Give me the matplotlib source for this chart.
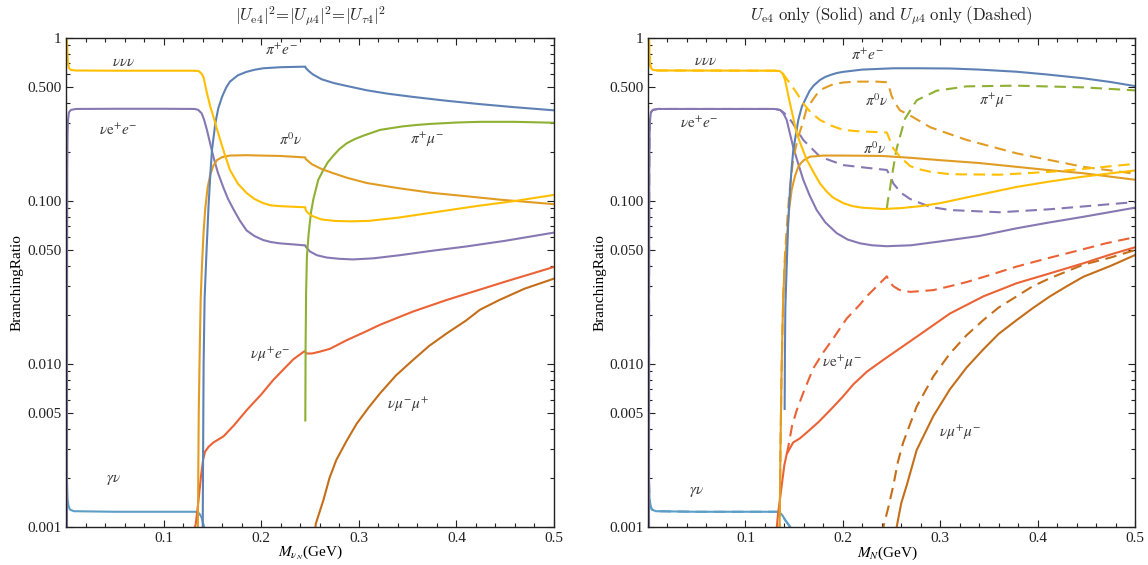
import numpy as np
import matplotlib
matplotlib.use("Agg")
import matplotlib.pyplot as plt
from matplotlib.ticker import FixedLocator, FixedFormatter, LogLocator, NullFormatter, MultipleLocator

plt.rcParams['font.family'] = ['Liberation Serif', 'DejaVu Serif']
plt.rcParams['mathtext.fontset'] = 'stix'

# Mathematica default palette
BLUE = '#5E81B5'
ORANGE = '#E19C24'
GREEN = '#8FB032'
RED = '#EB6235'
PURPLE = '#8778B3'
BROWN = '#C56E1A'
LBLUE = '#5D9EC7'
YELLOW = '#FFBF00'

# ---------------- left panel: |Ue4|^2 = |Umu4|^2 = |Utau4|^2 ----------------
L_nnn_x = [0.001, 0.0015, 0.002, 0.003, 0.005, 0.01, 0.05, 0.1, 0.13, 0.1355, 0.1376, 0.1393, 0.141,
           0.1444, 0.1478, 0.151, 0.154, 0.158, 0.163, 0.168, 0.176, 0.185, 0.193, 0.202, 0.21,
           0.219, 0.2452, 0.2456, 0.2475, 0.252, 0.262, 0.275, 0.291, 0.31, 0.34, 0.376, 0.42,
           0.46, 0.5]
L_nnn_y = [1.0, 0.8, 0.7, 0.655, 0.637, 0.632, 0.630, 0.630, 0.630, 0.628, 0.615, 0.60, 0.57,
           0.46, 0.38, 0.33, 0.285, 0.237, 0.19, 0.155, 0.128, 0.112, 0.103, 0.097, 0.094,
           0.093, 0.0915, 0.088, 0.085, 0.081, 0.077, 0.0755, 0.075, 0.0755, 0.079, 0.085, 0.093,
           0.1, 0.109]

L_nee_x = [0.00102, 0.0011, 0.0013, 0.0016, 0.002, 0.003, 0.005, 0.01, 0.05, 0.1, 0.132, 0.1355,
           0.139, 0.1415, 0.1444, 0.1475, 0.151, 0.1555, 0.161, 0.166, 0.172, 0.178, 0.185, 0.193,
           0.202, 0.21, 0.219, 0.2452, 0.2456, 0.25, 0.257, 0.267, 0.28, 0.294, 0.315, 0.342,
           0.375, 0.41, 0.45, 0.5]
L_nee_y = [0.0005, 0.03, 0.15, 0.25, 0.31, 0.35, 0.362, 0.367, 0.368, 0.368, 0.367, 0.362,
           0.345, 0.315, 0.273, 0.228, 0.187, 0.15, 0.122, 0.103, 0.088, 0.076, 0.066, 0.061,
           0.0576, 0.056, 0.055, 0.0534, 0.0525, 0.049, 0.0465, 0.045, 0.0442, 0.0438, 0.0445,
           0.0465, 0.0495, 0.0526, 0.057, 0.064]

L_pie_x = [0.1400, 0.1405, 0.141, 0.142, 0.1437, 0.146, 0.148, 0.1496, 0.153, 0.156, 0.160, 0.164,
           0.168, 0.176, 0.185, 0.193, 0.202, 0.22, 0.2452, 0.2456, 0.249, 0.2535, 0.262, 0.274,
           0.2876, 0.308, 0.33, 0.3557, 0.39, 0.424, 0.46, 0.5]
L_pie_y = [0.0008, 0.003, 0.01, 0.025, 0.045, 0.092, 0.15, 0.206, 0.30, 0.37, 0.437, 0.495,
           0.54, 0.59, 0.62, 0.638, 0.652, 0.662, 0.667, 0.655, 0.625, 0.595, 0.558, 0.53,
           0.508, 0.478, 0.455, 0.435, 0.412, 0.393, 0.376, 0.36]

L_pi0_x = [0.1350, 0.1355, 0.136, 0.137, 0.138, 0.1393, 0.141, 0.1427, 0.145, 0.1478, 0.151,
           0.1546, 0.16, 0.168, 0.185, 0.2, 0.219, 0.2452, 0.2456, 0.2485, 0.252, 0.262, 0.274,
           0.2876, 0.308, 0.34, 0.376, 0.41, 0.444, 0.47, 0.5]
L_pi0_y = [0.0008, 0.002, 0.005, 0.012, 0.025, 0.04, 0.065, 0.09, 0.12, 0.145, 0.165,
           0.178, 0.186, 0.19, 0.191, 0.19, 0.189, 0.185, 0.181, 0.175, 0.168, 0.157, 0.148,
           0.139, 0.129, 0.12, 0.112, 0.107, 0.102, 0.099, 0.0956]

L_pimu_x = [0.2452, 0.2455, 0.246, 0.2468, 0.2485, 0.251, 0.2535, 0.2585, 0.2637, 0.268, 0.274,
            0.28, 0.2876, 0.296, 0.305, 0.3217, 0.335, 0.345, 0.36, 0.3728, 0.40, 0.424, 0.46, 0.5]
L_pimu_y = [0.0045, 0.013, 0.027, 0.045, 0.062, 0.085, 0.103, 0.135, 0.155, 0.172, 0.19,
            0.208, 0.226, 0.24, 0.252, 0.273, 0.281, 0.287, 0.293, 0.297, 0.303, 0.306, 0.306, 0.302]

L_nmue_x = [0.1305, 0.133, 0.136, 0.1385, 0.1405, 0.1425, 0.146, 0.151, 0.1614, 0.172, 0.185, 0.2,
            0.2125, 0.233, 0.2445, 0.2465, 0.252, 0.26, 0.2705, 0.2876, 0.305, 0.3217, 0.3557,
            0.39, 0.45, 0.5]
L_nmue_y = [0.0009, 0.00105, 0.0015, 0.0021, 0.0026, 0.0029, 0.0031, 0.0033, 0.0036, 0.0042, 0.0052,
            0.0065, 0.008, 0.0107, 0.012, 0.0116, 0.0116, 0.0119, 0.0124, 0.014, 0.0156, 0.0174,
            0.021, 0.0247, 0.032, 0.0394]

L_nmumu_x = [0.2545, 0.256, 0.2637, 0.27, 0.277, 0.2878, 0.2978, 0.31, 0.3217, 0.338, 0.3557, 0.372,
             0.39, 0.41, 0.424, 0.444, 0.47, 0.5]
L_nmumu_y = [0.0009, 0.00105, 0.00146, 0.002, 0.00258, 0.0034, 0.0043, 0.0054, 0.0066, 0.0085,
             0.0106, 0.0129, 0.0154, 0.0185, 0.0215, 0.0247, 0.029, 0.0334]

L_gnu_x = [0.001, 0.0015, 0.0025, 0.004, 0.008, 0.05, 0.1, 0.132, 0.135, 0.137, 0.139, 0.1405, 0.142, 0.1435]
L_gnu_y = [0.0019, 0.0015, 0.00135, 0.00128, 0.00125, 0.00124, 0.00124, 0.00124, 0.00123, 0.0012,
           0.00114, 0.00105, 0.00097, 0.0009]

# ---------------- right panel: Ue4 only (solid) ----------------
R_nnn_x = [0.001, 0.0015, 0.002, 0.003, 0.005, 0.01, 0.13, 0.1355, 0.1385, 0.1407, 0.1458, 0.1527,
           0.158, 0.163, 0.17, 0.1766, 0.183, 0.19, 0.2005, 0.21, 0.22, 0.2416, 0.26, 0.28, 0.30,
           0.33, 0.3785, 0.41, 0.4466, 0.5]
R_nnn_y = [1.0, 0.8, 0.7, 0.655, 0.637, 0.632, 0.630, 0.627, 0.60, 0.553, 0.397, 0.26,
           0.213, 0.179, 0.15, 0.128, 0.115, 0.105, 0.097, 0.093, 0.091, 0.0893, 0.0905, 0.093,
           0.097, 0.106, 0.122, 0.131, 0.141, 0.154]

R_nee_x = [0.00102, 0.0011, 0.0013, 0.0016, 0.002, 0.003, 0.005, 0.01, 0.13, 0.1355, 0.139, 0.1424,
           0.149, 0.1535, 0.1594, 0.166, 0.1732, 0.182, 0.1937, 0.205, 0.2177, 0.23, 0.245, 0.27,
           0.30, 0.34, 0.3785, 0.41, 0.447, 0.5]
R_nee_y = [0.0005, 0.03, 0.15, 0.25, 0.31, 0.35, 0.362, 0.367, 0.367, 0.362, 0.345, 0.314,
           0.215, 0.175, 0.135, 0.108, 0.088, 0.074, 0.0635, 0.058, 0.055, 0.0535, 0.0528,
           0.0535, 0.0565, 0.061, 0.068, 0.0735, 0.080, 0.091]

R_pie_x = [0.1403, 0.1406, 0.141, 0.1424, 0.144, 0.1458, 0.1475, 0.1492, 0.1543, 0.158, 0.163,
           0.166, 0.17, 0.1766, 0.182, 0.188, 0.194, 0.2005, 0.22, 0.2519, 0.28, 0.31, 0.34,
           0.3785, 0.41, 0.447, 0.475, 0.5]
R_pie_y = [0.0053, 0.012, 0.022, 0.04, 0.075, 0.117, 0.16, 0.206, 0.314, 0.38, 0.437,
           0.475, 0.51, 0.553, 0.577, 0.595, 0.61, 0.62, 0.64, 0.652, 0.652, 0.65, 0.64,
           0.621, 0.597, 0.566, 0.537, 0.507]

R_pi0_x = [0.1350, 0.1355, 0.136, 0.137, 0.138, 0.139, 0.1405, 0.1424, 0.145, 0.1475, 0.151,
           0.1543, 0.157, 0.16, 0.1663, 0.18, 0.2005, 0.24, 0.27, 0.30, 0.34, 0.3785, 0.41,
           0.447, 0.5]
R_pi0_y = [0.0009, 0.0015, 0.003, 0.008, 0.016, 0.027, 0.042, 0.0576, 0.09, 0.117, 0.143,
           0.162, 0.171, 0.178, 0.187, 0.19, 0.19, 0.189, 0.184, 0.178, 0.171, 0.162, 0.155,
           0.148, 0.135]

R_nemu_x = [0.1315, 0.1335, 0.1373, 0.14, 0.1424, 0.149, 0.156, 0.163, 0.175, 0.1869, 0.2,
            0.2108, 0.225, 0.2416, 0.2759, 0.31, 0.3443, 0.3785, 0.4127, 0.447, 0.475, 0.5]
R_nemu_y = [0.0009, 0.0012, 0.0018, 0.0024, 0.0028, 0.0033, 0.0035, 0.0038, 0.0044, 0.0052, 0.0063,
            0.0075, 0.009, 0.0106, 0.0147, 0.0204, 0.026, 0.0313, 0.036, 0.0415, 0.047, 0.052]

R_mumu_x = [0.2545, 0.2553, 0.26, 0.2656, 0.2759, 0.293, 0.31, 0.327, 0.3443, 0.36, 0.3785,
            0.395, 0.4127, 0.43, 0.447, 0.475, 0.5]
R_mumu_y = [0.0009, 0.001, 0.0014, 0.0018, 0.00297, 0.0048, 0.007, 0.0095, 0.0123, 0.0153,
            0.0186, 0.022, 0.026, 0.030, 0.0343, 0.040, 0.0466]

R_gnu_x = [0.001, 0.0015, 0.0025, 0.004, 0.008, 0.05, 0.1, 0.132, 0.135, 0.138, 0.141, 0.144, 0.147, 0.149]
R_gnu_y = [0.0019, 0.0015, 0.00135, 0.00128, 0.00125, 0.00124, 0.00124, 0.00124, 0.00123, 0.00118,
           0.0011, 0.00104, 0.00098, 0.00094]

# ---------------- right panel: Umu4 only (dashed) ----------------
D_nnn_x = [0.001, 0.0015, 0.002, 0.003, 0.005, 0.01, 0.13, 0.1355, 0.138, 0.1424, 0.1458, 0.1527,
           0.1594, 0.167, 0.1766, 0.188, 0.2005, 0.215, 0.228, 0.2452, 0.2485, 0.2519, 0.2587,
           0.269, 0.2759, 0.29, 0.31, 0.3614, 0.4127, 0.45, 0.5]
D_nnn_y = [1.0, 0.8, 0.7, 0.655, 0.637, 0.632, 0.630, 0.627, 0.61, 0.56, 0.527, 0.46,
           0.397, 0.35, 0.314, 0.29, 0.273, 0.268, 0.266, 0.263, 0.235, 0.21, 0.187,
           0.164, 0.158, 0.151, 0.146, 0.145, 0.151, 0.158, 0.169]

D_nee_x = [0.00102, 0.0011, 0.0013, 0.0016, 0.002, 0.003, 0.005, 0.01, 0.13, 0.1355, 0.139, 0.1424,
           0.1475, 0.1594, 0.1766, 0.2005, 0.228, 0.2452, 0.2485, 0.2519, 0.26, 0.269, 0.2759,
           0.29, 0.31, 0.3614, 0.4127, 0.46, 0.5]
D_nee_y = [0.0005, 0.03, 0.15, 0.25, 0.31, 0.35, 0.362, 0.367, 0.367, 0.362, 0.35, 0.335,
           0.307, 0.237, 0.187, 0.166, 0.159, 0.155, 0.143, 0.128, 0.112, 0.103, 0.099,
           0.092, 0.088, 0.0853, 0.089, 0.094, 0.0985]

D_pi0_x = [0.1350, 0.1355, 0.136, 0.137, 0.138, 0.139, 0.1405, 0.1424, 0.145, 0.149, 0.154, 0.158,
           0.163, 0.173, 0.18, 0.19, 0.2, 0.214, 0.235, 0.2452, 0.2475, 0.2502, 0.2535, 0.2587,
           0.269, 0.29, 0.327, 0.3785, 0.447, 0.5]
D_pi0_y = [0.0009, 0.0015, 0.003, 0.008, 0.016, 0.027, 0.045, 0.068, 0.11, 0.18, 0.245, 0.29,
           0.37, 0.45, 0.49, 0.52, 0.533, 0.54, 0.54, 0.535, 0.50, 0.44, 0.40, 0.36,
           0.335, 0.283, 0.237, 0.196, 0.162, 0.147]

D_pimu_x = [0.2452, 0.2462, 0.2485, 0.2502, 0.2553, 0.2639, 0.2759, 0.2964, 0.327, 0.3785, 0.447, 0.5]
D_pimu_y = [0.09, 0.1, 0.12, 0.14, 0.21, 0.32, 0.415, 0.475, 0.505, 0.51, 0.498, 0.477]

D_nemu_x = [0.1424, 0.144, 0.148, 0.1527, 0.16, 0.1697, 0.18, 0.19, 0.204, 0.2177, 0.2245, 0.235,
            0.2452, 0.2475, 0.2519, 0.258, 0.269, 0.28, 0.293, 0.31, 0.327, 0.35, 0.3785, 0.41,
            0.4435, 0.47, 0.5]
D_nemu_y = [0.0028, 0.0031, 0.0042, 0.0052, 0.0068, 0.0094, 0.0118, 0.0143, 0.019, 0.0232, 0.026, 0.030,
            0.0345, 0.032, 0.030, 0.0285, 0.0277, 0.028, 0.0284, 0.030, 0.0318, 0.035, 0.0396, 0.0445,
            0.05, 0.055, 0.060]

D_mumu_x = [0.2405, 0.2416, 0.2465, 0.2519, 0.2565, 0.262, 0.2759, 0.293, 0.31, 0.327, 0.3443, 0.36,
            0.3785, 0.395, 0.4127, 0.43, 0.447, 0.475, 0.5]
D_mumu_y = [0.0009, 0.001, 0.0013, 0.0018, 0.0025, 0.0033, 0.0055, 0.0084, 0.0116, 0.015, 0.0186, 0.0222,
            0.026, 0.030, 0.0336, 0.037, 0.0407, 0.045, 0.05]

D_gnu_x = R_gnu_x
D_gnu_y = R_gnu_y

y_ticks = [0.001, 0.005, 0.01, 0.05, 0.1, 0.5, 1]
y_tick_labels = ['0.001', '0.005', '0.010', '0.050', '0.100', '0.500', '1']
x_ticks = [0.1, 0.2, 0.3, 0.4, 0.5]
x_tick_labels = ['0.1', '0.2', '0.3', '0.4', '0.5']

LW = 1.5
DASH = (0, (5.5, 3.2))
LABEL_COLOR = '#3a3a3a'


def style_axes(ax):
    ax.set_yscale('log')
    ax.set_xlim(0, 0.5)
    ax.set_ylim(0.001, 1)
    ax.yaxis.set_major_locator(FixedLocator(y_ticks))
    ax.yaxis.set_major_formatter(FixedFormatter(y_tick_labels))
    ax.yaxis.set_minor_locator(LogLocator(base=10, subs=np.arange(2, 10)))
    ax.yaxis.set_minor_formatter(NullFormatter())
    ax.xaxis.set_major_locator(FixedLocator(x_ticks))
    ax.xaxis.set_major_formatter(FixedFormatter(x_tick_labels))
    ax.xaxis.set_minor_locator(MultipleLocator(0.02))
    ax.tick_params(which='both', direction='in', top=True, right=True, labelsize=11,
                   width=0.8, colors='#222222')
    ax.tick_params(which='major', length=5)
    ax.tick_params(which='minor', length=2.8)
    for s in ax.spines.values():
        s.set_linewidth(1.0)
        s.set_color('#222222')


def label(ax, x, y, s):
    ax.text(x, y, s, fontsize=11, color=LABEL_COLOR, ha='center', va='center')


fig = plt.figure(figsize=(11.48, 5.65), dpi=100)
W, H = 1148.0, 565.0
ax1 = fig.add_axes([66 / W, (H - 527) / H, (554 - 66) / W, (527 - 38) / H])
ax2 = fig.add_axes([648 / W, (H - 527) / H, (1135 - 648) / W, (527 - 38) / H])

# left panel curves
ax1.plot(L_gnu_x, L_gnu_y, color=LBLUE, lw=LW)
ax1.plot(L_nmumu_x, L_nmumu_y, color=BROWN, lw=LW)
ax1.plot(L_nee_x, L_nee_y, color=PURPLE, lw=LW)
ax1.plot(L_nmue_x, L_nmue_y, color=RED, lw=LW)
ax1.plot(L_pimu_x, L_pimu_y, color=GREEN, lw=LW)
ax1.plot(L_pi0_x, L_pi0_y, color=ORANGE, lw=LW)
ax1.plot(L_pie_x, L_pie_y, color=BLUE, lw=LW)
ax1.plot(L_nnn_x, L_nnn_y, color=YELLOW, lw=LW)
style_axes(ax1)

label(ax1, 0.059, 0.71, r'$\nu\nu\nu$')
label(ax1, 0.054, 0.273, r'$\nu\mathrm{e}^{+}e^{-}$')
label(ax1, 0.221, 0.84, r'$\pi^{+}e^{-}$')
label(ax1, 0.230, 0.237, r'$\pi^{0}\nu$')
label(ax1, 0.370, 0.237, r'$\pi^{+}\mu^{-}$')
label(ax1, 0.209, 0.0114, r'$\nu\mu^{+}e^{-}$')
label(ax1, 0.350, 0.0056, r'$\nu\mu^{-}\mu^{+}$')
label(ax1, 0.049, 0.00197, r'$\gamma\nu$')

# right panel: solid Ue4 only, dashed Umu4 only
ax2.plot(R_gnu_x, R_gnu_y, color=LBLUE, lw=LW)
ax2.plot(D_gnu_x, D_gnu_y, color=LBLUE, lw=LW, ls=DASH)
ax2.plot(R_mumu_x, R_mumu_y, color=BROWN, lw=LW)
ax2.plot(D_mumu_x, D_mumu_y, color=BROWN, lw=LW, ls=DASH)
ax2.plot(R_nemu_x, R_nemu_y, color=RED, lw=LW)
ax2.plot(D_nemu_x, D_nemu_y, color=RED, lw=LW, ls=DASH)
ax2.plot(R_nee_x, R_nee_y, color=PURPLE, lw=LW)
ax2.plot(D_nee_x, D_nee_y, color=PURPLE, lw=LW, ls=DASH)
ax2.plot(D_pimu_x, D_pimu_y, color=GREEN, lw=LW, ls=DASH)
ax2.plot(R_pi0_x, R_pi0_y, color=ORANGE, lw=LW)
ax2.plot(D_pi0_x, D_pi0_y, color=ORANGE, lw=LW, ls=DASH)
ax2.plot(R_pie_x, R_pie_y, color=BLUE, lw=LW)
ax2.plot(R_nnn_x, R_nnn_y, color=YELLOW, lw=LW)
ax2.plot(D_nnn_x, D_nnn_y, color=YELLOW, lw=LW, ls=DASH)
style_axes(ax2)

label(ax2, 0.0595, 0.72, r'$\nu\nu\nu$')
label(ax2, 0.053, 0.30, r'$\nu\mathrm{e}^{+}e^{-}$')
label(ax2, 0.225, 0.78, r'$\pi^{+}e^{-}$')
label(ax2, 0.235, 0.41, r'$\pi^{0}\nu$')
label(ax2, 0.233, 0.21, r'$\pi^{0}\nu$')
label(ax2, 0.357, 0.41, r'$\pi^{+}\mu^{-}$')
label(ax2, 0.199, 0.0102, r'$\nu\mathrm{e}^{+}\mu^{-}$')
label(ax2, 0.320, 0.0038, r'$\nu\mu^{+}\mu^{-}$')
label(ax2, 0.050, 0.00164, r'$\gamma\nu$')

# titles and axis labels
fig.text(310 / W, 1 - 16 / H, r'$|U_{\rm e4}|^2\!=\!|U_{\mu 4}|^2\!=\!|U_{\tau 4}|^2$',
         ha='center', va='center', fontsize=12, math_fontfamily='cm', color='#222222')
fig.text(891 / W, 1 - 16 / H,
         r'$U_{\rm e4}\ \mathrm{only\ (Solid)\ and}\ U_{\mu 4}\ \mathrm{only\ (Dashed)}$',
         ha='center', va='center', fontsize=12, math_fontfamily='cm', color='#222222')
fig.text(17 / W, 1 - 283 / H, 'BranchingRatio', rotation=90, ha='center', va='center', fontsize=11)
fig.text(600 / W, 1 - 283 / H, 'BranchingRatio', rotation=90, ha='center', va='center', fontsize=11)
fig.text(310 / W, 1 - 553 / H, r'$M_{\nu_N}$(GeV)', ha='center', va='center', fontsize=11)
fig.text(888 / W, 1 - 553 / H, r'$M_N$(GeV)', ha='center', va='center', fontsize=11)

fig.savefig('out.png', dpi=100)
